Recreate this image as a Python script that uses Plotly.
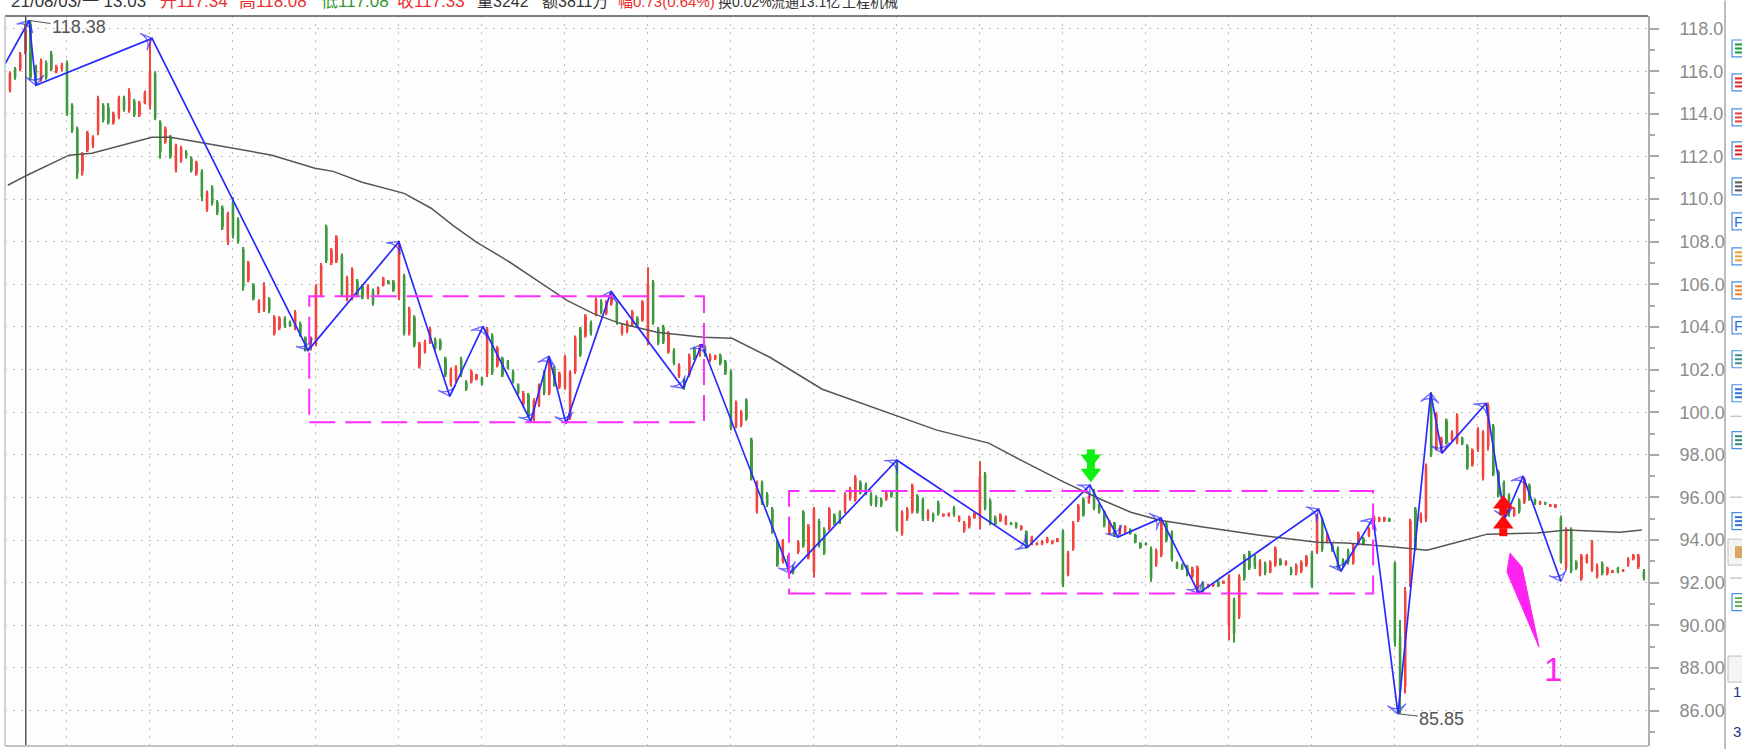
import plotly.graph_objects as go

# ---------- data ----------
highs = [116.0,116.2,116.9,118.2,118.38,116.3,116.6,116.5,116.95,116.3,
116.4,116.5,114.5,113.4,112.2,113.2,113.0,114.85,114.5,114.5,
114.1,114.85,114.85,115.2,114.7,114.6,115.1,117.5,116.0,113.7,
113.4,113.0,112.6,112.5,112.3,112.0,111.8,111.4,110.4,110.65,
109.95,109.7,109.4,110.1,109.15,107.75,107.1,106.05,105.3,106.1,
105.4,104.55,104.5,104.5,104.3,104.8,104.25,103.55,103.55,106.0,
107.0,108.8,107.7,108.3,107.45,106.4,106.8,106.25,106.0,106.0,
105.8,105.9,106.35,106.2,106.2,108.05,106.5,104.95,104.55,103.3,
103.4,104.0,103.5,103.45,102.6,102.1,102.2,102.6,101.5,102.0,
101.8,101.65,104.0,103.7,103.1,102.6,102.45,102.0,101.35,101.0,
100.9,100.65,101.35,101.97,102.6,102.15,101.9,102.7,101.97,103.6,
104.0,104.6,104.3,105.4,105.3,105.25,105.57,105.2,104.15,104.3,
104.8,104.5,105.25,106.8,106.2,104.0,104.1,103.8,103.0,102.3,
101.6,102.75,103.05,103.2,103.15,102.75,102.7,102.75,102.45,102.0,
100.55,100.1,100.65,98.8,96.8,96.8,96.25,95.55,94.0,94.05,
93.3,92.8,94.0,95.4,94.75,95.55,95.0,94.6,95.55,95.25,
95.4,96.25,96.5,97.05,96.8,96.7,96.25,96.1,96.0,96.3,
96.35,97.7,95.4,95.55,96.65,96.15,96.0,95.45,95.3,95.85,
95.25,95.3,95.6,95.15,94.9,95.15,95.3,97.7,97.2,95.95,
95.15,95.25,95.15,94.85,94.85,94.7,94.45,94.2,93.9,94.0,
94.15,94.0,94.1,94.5,93.5,94.9,95.7,96.0,96.1,96.4,
95.7,95.4,94.95,94.85,94.7,94.7,94.55,94.3,93.9,93.9,
93.7,93.6,94.95,94.85,94.45,93.0,92.9,92.85,92.75,92.8,
92.05,91.95,92.0,92.1,92.1,92.4,91.3,92.4,93.35,93.5,
93.3,93.1,93.0,93.05,93.7,93.15,93.05,92.75,92.9,93.05,
93.3,93.5,95.25,95.1,94.3,93.85,93.7,93.15,93.6,93.85,
94.4,94.15,94.6,95.15,95.1,95.1,95.05,93.0,90.25,91.8,
95.0,95.55,95.3,97.6,100.95,100.0,98.85,99.7,99.15,99.95,
98.85,98.5,98.3,99.3,99.15,100.45,99.45,97.3,96.8,96.2,
95.55,95.95,96.95,96.65,95.95,95.85,95.8,95.7,95.7,95.15,
94.6,94.6,93.05,93.35,93.35,94.0,92.9,93.0,92.75,92.6,
92.75,92.65,93.2,93.35,93.35,92.65]

lows = [115.0,115.6,116.0,116.8,115.6,115.4,115.5,115.6,116.0,115.9,
116.0,113.9,113.1,110.95,111.1,112.2,112.4,113.0,113.6,113.5,
113.5,113.75,114.1,114.05,113.85,113.85,114.45,114.2,113.7,111.9,
112.6,111.9,111.25,111.7,111.9,111.25,111.1,109.9,109.4,109.7,
109.25,108.55,107.85,108.15,107.9,105.7,106.1,105.25,104.65,104.7,
104.65,103.6,103.85,103.95,104.0,103.85,103.55,102.85,102.9,103.1,
105.4,107.0,106.9,107.0,105.4,105.2,105.25,105.4,105.3,105.3,
105.0,105.5,105.9,106.0,105.65,105.25,103.6,103.6,103.05,102.05,
102.75,103.2,102.9,102.9,101.65,101.2,101.35,101.65,101.0,101.35,
101.5,101.25,101.65,101.75,102.1,101.65,102.0,101.35,100.8,100.25,
99.75,99.55,100.25,100.8,100.8,101.2,101.1,101.05,99.63,101.8,
102.6,103.5,103.6,104.5,104.6,104.55,105.0,104.1,103.6,103.7,
104.0,104.0,104.25,103.15,104.1,103.15,103.2,102.75,102.2,101.6,
101.05,101.65,102.45,102.6,102.6,102.35,102.45,102.2,101.75,99.15,
99.25,99.3,99.6,96.8,95.25,95.65,95.55,94.3,92.75,92.9,
92.55,92.4,93.35,93.65,93.1,92.25,93.65,93.3,94.45,94.7,
94.75,95.25,95.85,95.8,96.15,96.1,95.6,95.55,95.55,95.85,
96.0,94.4,94.2,94.9,95.25,95.25,94.9,94.9,94.85,95.15,
95.1,95.1,95.1,94.85,94.35,94.55,95.0,94.5,95.4,94.7,
94.7,94.85,94.7,94.7,94.55,94.45,93.6,93.76,93.75,93.76,
93.85,93.8,93.9,91.8,92.3,93.5,94.85,95.1,95.7,95.4,
95.25,94.6,94.25,94.15,94.25,94.3,94.25,93.85,93.6,93.75,
92.05,92.75,93.2,93.9,93.0,92.65,92.6,92.3,92.2,91.55,
91.5,91.75,91.8,91.8,91.95,89.3,89.2,90.3,92.1,92.6,
92.65,92.3,92.35,92.45,92.75,92.8,92.8,92.35,92.35,92.45,
92.75,91.75,93.35,93.45,93.85,93.45,92.6,92.75,92.85,92.85,
93.75,93.75,94.15,94.8,94.85,94.85,94.85,89.0,85.85,86.8,
91.8,93.5,94.8,94.85,97.9,98.2,98.15,98.5,98.6,98.5,
98.45,97.3,97.45,98.15,96.8,98.2,97.0,96.0,95.9,95.1,
95.1,95.25,95.7,95.85,95.65,95.65,95.65,95.55,95.5,92.9,
92.6,92.45,92.6,92.1,92.9,92.5,92.2,92.35,92.35,92.45,
92.45,92.5,92.75,93.05,92.65,92.1]

opens = [115.1,116.1,116.1,116.9,118.2,116.2,115.6,116.4,116.8,116.0,
116.1,116.4,114.4,113.3,111.3,112.3,112.5,113.2,114.4,114.3,
113.6,113.85,114.75,114.15,114.6,113.95,114.5,114.4,115.9,113.6,
112.7,112.9,111.4,111.8,112.2,111.9,111.2,111.3,109.5,110.55,
109.85,109.6,108.0,109.9,109.05,107.65,106.2,105.95,104.75,104.8,
105.3,103.7,103.95,104.4,104.25,103.95,104.15,103.5,103.0,103.2,
105.5,108.7,107.0,107.1,107.35,105.3,105.35,106.15,105.9,105.4,
105.7,105.55,105.95,106.15,106.1,105.4,106.4,103.7,104.45,102.2,
102.85,103.3,103.4,103.35,102.5,101.3,101.45,102.5,101.4,101.45,
101.55,101.6,101.8,103.6,102.2,102.5,102.4,101.9,101.3,100.35,
100.8,99.65,100.35,101.87,100.9,102.05,101.2,101.15,99.75,101.9,
103.9,103.6,104.2,104.6,105.2,104.65,105.1,105.1,103.7,103.8,
104.1,104.4,104.35,103.3,106.1,103.9,104.0,102.85,102.9,101.7,
101.5,101.75,102.95,102.7,103.05,102.45,102.5,102.65,102.35,101.9,
99.35,99.4,100.55,98.7,95.35,96.7,96.15,95.45,93.9,93.0,
93.2,92.7,93.45,95.3,93.2,92.5,94.9,94.5,94.55,95.15,
95.3,95.35,95.95,95.9,96.7,96.6,96.15,96.0,95.9,95.95,
96.25,97.6,94.3,95.0,95.35,96.05,95.9,95.0,95.2,95.75,
95.12,95.12,95.5,94.9,94.45,94.65,95.05,95.0,97.1,95.85,
95.05,94.9,94.75,94.82,94.8,94.5,94.4,93.8,93.78,93.8,
93.9,93.85,93.92,94.4,92.4,93.6,94.95,95.9,95.75,96.3,
95.65,95.35,94.35,94.75,94.35,94.35,94.5,94.25,93.85,93.85,
93.6,92.85,93.3,94.75,94.35,92.95,92.85,92.75,92.3,91.7,
92.0,91.78,91.85,92.05,91.97,90.0,91.2,90.4,93.25,93.4,
93.2,92.4,92.9,92.5,92.85,93.05,92.85,92.65,92.45,92.55,
92.85,93.4,93.45,95.0,93.95,93.75,93.6,93.05,93.5,92.95,
93.85,94.05,94.2,94.85,94.9,94.9,95.0,92.9,89.5,87.1,
92.0,95.45,94.9,95.0,100.85,98.3,98.25,99.6,98.7,98.6,
98.8,98.4,97.55,98.25,96.95,98.4,99.35,97.2,96.7,96.1,
95.15,95.85,95.8,96.55,95.9,95.7,95.78,95.58,95.55,95.05,
92.7,94.5,92.95,92.2,92.95,92.6,92.3,92.9,92.45,92.48,
92.7,92.52,92.85,93.1,92.75,92.55]

closes = [115.9,115.7,116.8,118.0,115.7,115.5,116.5,115.7,116.1,116.2,
116.3,114.0,113.2,111.2,112.1,113.1,112.9,114.7,113.7,113.6,
114.0,114.75,114.2,115.05,113.95,114.5,115.0,116.0,113.8,112.2,
113.3,112.0,112.5,112.4,112.0,111.35,111.7,110.1,110.3,109.8,
109.35,108.7,109.3,108.3,108.0,105.9,107.0,105.35,105.2,105.9,
104.75,104.45,104.4,104.05,104.05,104.7,103.65,102.95,103.45,105.9,
106.9,107.1,107.6,108.2,105.5,106.3,106.7,105.5,105.4,105.9,
105.1,105.85,106.3,106.05,105.75,107.9,103.7,104.85,103.15,103.2,
103.3,103.9,103.0,103.0,101.75,102.0,102.1,101.75,101.1,101.9,
101.75,101.3,103.9,101.85,103.0,101.75,102.05,101.45,100.9,100.9,
99.85,100.55,101.25,100.9,102.5,101.3,101.8,102.6,101.87,103.5,
102.7,104.5,103.7,105.3,104.7,105.15,105.47,104.2,104.05,104.2,
104.7,104.1,105.15,106.0,104.2,103.25,103.3,103.7,102.3,102.2,
101.15,102.65,102.55,103.1,102.7,102.65,102.65,102.3,101.85,99.25,
100.45,100.0,99.7,96.9,96.7,95.75,95.65,94.4,92.85,93.95,
92.65,92.5,93.9,93.75,94.65,95.45,93.75,93.4,95.45,94.8,
94.85,96.15,96.4,96.95,96.25,96.2,95.7,95.65,95.65,96.2,
96.1,94.5,95.3,95.45,96.55,95.35,95.0,95.35,94.95,95.25,
95.23,95.28,95.2,95.1,94.8,95.05,95.25,97.0,95.5,94.8,
94.75,95.2,95.1,94.72,94.6,94.65,93.7,94.15,93.88,93.95,
94.1,93.95,94.05,91.9,93.4,94.8,95.6,95.2,96.05,95.5,
95.3,94.7,94.85,94.25,94.6,94.65,94.3,93.9,93.65,93.78,
92.2,93.5,94.85,94.0,93.1,92.7,92.65,92.4,92.65,92.7,
91.6,91.92,91.97,91.85,92.07,92.3,89.6,92.3,92.2,92.7,
92.75,93.0,92.45,92.95,93.6,92.85,93.0,92.45,92.8,92.95,
93.2,91.85,95.15,93.55,94.2,93.55,92.7,92.85,92.95,93.75,
94.3,93.85,94.5,95.1,95.05,95.05,94.9,89.2,86.9,91.6,
94.9,93.6,95.2,97.5,98.0,99.9,98.75,98.6,99.05,99.85,
98.5,97.4,98.2,99.2,99.05,100.3,97.1,96.1,96.0,95.2,
95.5,95.35,96.85,95.95,95.7,95.8,95.68,95.68,95.65,93.0,
94.5,92.55,92.7,93.25,93.3,93.9,92.8,92.45,92.7,92.58,
92.5,92.62,93.1,93.3,93.25,92.2]

zigzag_bar = [-0.9,3.7,5.0,27.4,57.5,75.0,84.8,91.2,100.4,103.9,107.2,115.9,129.8,133.4,150.4,171.0,196.2,208.2,213.6,221.9,229.2,252.3,256.6,262.8,267.6,273.9,276.1,284.6,288.2,291.7,299.0]
zigzag_price = [116.36,118.38,115.34,117.54,102.9,108.0,100.75,104.03,99.58,102.63,99.48,105.67,101.13,103.19,92.45,97.75,93.67,96.58,94.14,95.03,91.51,95.45,92.54,95.03,85.85,100.89,98.08,100.42,95.03,97.0,92.07]

ma_bar = [-0.4,3.3,11.4,15.8,27.4,30.9,37.6,50.5,58.8,62.3,67.9,76.0,81.2,85.4,90.0,95.8,101.6,107.4,112.4,117.6,124.7,133.6,139.2,146.5,156.6,169.5,178.7,188.7,194.9,203.2,210.7,216.1,221.7,230.0,241.0,252.0,257.7,267.4,273.2,279.0,284.8,294.4,300.2,310.4,314.6]
ma_price = [110.65,111.12,112.06,112.15,112.9,112.9,112.62,112.06,111.45,111.3,110.79,110.27,109.57,108.77,107.97,107.13,106.19,105.25,104.64,104.17,103.75,103.52,103.47,102.58,101.08,99.95,99.16,98.55,97.75,96.72,95.87,95.31,94.93,94.61,94.23,93.9,93.86,93.67,93.53,93.9,94.28,94.33,94.47,94.37,94.47]

tick_values = [118,116,114,112,110,108,106,104,102,100,98,96,94,92,90,88,86]
tick_labels = ["118.0","116.0","114.0","112.0","110.0","108.0","106.0","104.0","102.0","100.0","98.00","96.00","94.00","92.00","90.00","88.00","86.00"]
grid_bars = [11,27,43,59,75,91,107,123,139,155,171,187,203,219,235,251,267,283,299]

box_bars = [[57.7,133.8],[150.2,262.8]]
box_prices = [[99.53,105.44],[91.5,96.3]]

up_head_bar, up_head_price = [287.9,287.9], [95.69,94.75]
up_stem_bar, up_stem_price = [287.9,287.9], [95.36,94.37]
down_head_bar, down_head_price = [208.4,208.4], [97.8,97.14]
down_stem_bar, down_stem_price = [208.4,208.4], [98.07,97.47]

header_parts = [("21/08/03/一 13:03","#333333",17),("开117.34","#e83030",17),("高118.08","#e83030",17),("低117.08","#2e9a2e",17),
                ("收117.33","#e83030",17),("量3242","#333333",16),("额3811万","#333333",16),("幅0.73(0.64%)","#e83030",15),
                ("换0.02%","#333333",14),("流通13.1亿","#333333",14),("工程机械","#333333",14)]
header_x = [9,158,237,319,395,475,540,616,716,769,840]

# ---------- pixel geometry of the frame ----------
L, R, T, B = 5, 1648, 15.5, 746
PX = lambda x: (x - L) / (R - L)
PY = lambda y: (B - y) / (B - T)
FONT = "Liberation Sans, Noto Sans CJK SC, sans-serif"
bars = list(range(len(highs)))
RED, GREEN = "#f2453f", "#3f9a3f"
bar_colors = [RED if c >= o else GREEN for o, c in zip(opens, closes)]

fig = go.Figure()
# wicks
fig.add_trace(go.Bar(x=bars, base=lows, y=[h - l for h, l in zip(highs, lows)], width=0.3,
                     marker=dict(color=bar_colors, line=dict(width=0)), hoverinfo="skip"))
# bodies
fig.add_trace(go.Bar(x=bars, base=[min(o, c) for o, c in zip(opens, closes)],
                     y=[abs(c - o) for o, c in zip(opens, closes)], width=0.5,
                     marker=dict(color=bar_colors, line=dict(width=0)), hoverinfo="skip"))
fig.add_trace(go.Scatter(x=ma_bar, y=ma_price, mode="lines", line=dict(color="#555555", width=1.5), hoverinfo="skip"))
fig.add_trace(go.Scatter(
    x=zigzag_bar, y=zigzag_price, mode="lines+markers", line=dict(color="#2a2aff", width=1.7),
    marker=dict(symbol="arrow-wide-open", angleref="previous", color="#2a2aff",
                size=[0] + [13] * (len(zigzag_bar) - 1), line=dict(color="#2a2aff", width=1.3)),
    hoverinfo="skip"))
for xs, ys, sym, col, size in [
    (up_stem_bar, up_stem_price, "square", "#ff0a0a", 8),
    (up_head_bar, up_head_price, "triangle-up", "#ff0a0a", 18),
    (down_stem_bar, down_stem_price, "square", "#11ee11", 8),
    (down_head_bar, down_head_price, "triangle-down", "#11ee11", 18)]:
    fig.add_trace(go.Scatter(x=xs, y=ys, mode="markers", marker=dict(symbol=sym, color=col, size=size, line=dict(width=0)), hoverinfo="skip"))

shapes = []
for bx, py in zip(box_bars, box_prices):
    shapes.append(dict(type="rect", xref="x", yref="y", x0=bx[0], x1=bx[1], y0=py[0], y1=py[1],
                       line=dict(color="#ff2eff", width=2, dash="26px,10px")))
# crosshair
shapes.append(dict(type="line", xref="x", yref="paper", x0=3.05, x1=3.05, y0=0, y1=1, line=dict(color="#555555", width=1.5)))
# frame lines
shapes += [
    dict(type="line", xref="paper", yref="paper", x0=0, x1=1, y0=1, y1=1, line=dict(color="#555555", width=1.5)),
    dict(type="line", xref="paper", yref="paper", x0=0, x1=0, y0=0, y1=1, line=dict(color="#c4c4c4", width=1.5)),
    dict(type="line", xref="paper", yref="paper", x0=0, x1=1, y0=0, y1=0, line=dict(color="#c4c4c4", width=2)),
    dict(type="line", xref="paper", yref="paper", x0=PX(1725), x1=PX(1725), y0=PY(749), y1=PY(0), line=dict(color="#a8a8a8", width=1.5)),
]
# pink hand-drawn arrow
pts = [(1510,553),(1522,567),(1539,647),(1507,572)]
path = "M " + " L ".join(f"{PX(x):.5f} {PY(y):.5f}" for x, y in pts) + " Z"
shapes.append(dict(type="path", xref="paper", yref="paper", path=path, fillcolor="#ff22f0", line=dict(color="#ff22f0", width=1)))

# toolbar icons on the far right
icons = [(48,"#1a9a3a"),(82,"#e82020"),(117,"#e04040"),(150,"#e02020"),(186,"#555555"),(221,None),(256,"#e8a030"),
         (290,"#f08030"),(325,None),(359,"#3a8f8f"),(393,"#2a70e0"),(440,"#2a8a6a"),(521,"#2a70e0"),(602,"#60b050")]
for y, c in icons:
    shapes.append(dict(type="rect", xref="paper", yref="paper", x0=PX(1732), x1=PX(1750), y0=PY(y+8.5), y1=PY(y-8.5),
                       line=dict(color="#4a90e0", width=1.2), fillcolor="#ffffff"))
    if c:
        for dy in (-4, 0, 4):
            shapes.append(dict(type="line", xref="paper", yref="paper", x0=PX(1735), x1=PX(1742), y0=PY(y+dy), y1=PY(y+dy),
                               line=dict(color=c, width=2)))
for sy in (416, 497, 578):
    shapes.append(dict(type="line", xref="paper", yref="paper", x0=PX(1730), x1=PX(1742), y0=PY(sy), y1=PY(sy), line=dict(color="#b0b0b0", width=1)))
for y in (552, 669):
    shapes.append(dict(type="rect", xref="paper", yref="paper", x0=PX(1728), x1=PX(1750), y0=PY(y+13), y1=PY(y-13),
                       line=dict(color="#c0c0c0", width=1), fillcolor="#f4f4f4"))
shapes.append(dict(type="rect", xref="paper", yref="paper", x0=PX(1735), x1=PX(1742), y0=PY(558), y1=PY(546), line=dict(width=0), fillcolor="#d8a860"))

ann = []
for (txt, col, size), x in zip(header_parts, header_x):
    ann.append(dict(xref="paper", yref="paper", x=PX(x), y=PY(1), xanchor="left", yanchor="middle", text=txt,
                    showarrow=False, font=dict(family=FONT, size=size, color=col)))
ann.append(dict(xref="x", yref="y", x=3.7, y=118.38, text="118.38", ax=50, ay=7, showarrow=True, arrowhead=0,
                arrowcolor="#555555", arrowwidth=1, font=dict(family=FONT, size=18, color="#555555")))
ann.append(dict(xref="x", yref="y", x=267.6, y=85.85, text="85.85", ax=44, ay=5, showarrow=True, arrowhead=0,
                arrowcolor="#555555", arrowwidth=1, font=dict(family=FONT, size=18, color="#555555")))
ann.append(dict(xref="paper", yref="paper", x=PX(1553), y=PY(669), xanchor="center", yanchor="middle", text="1", showarrow=False,
                font=dict(family=FONT, size=33, color="#ff22f0")))
for txt, y in (("1", 691), ("3", 731)):
    ann.append(dict(xref="paper", yref="paper", x=PX(1737), y=PY(y), xanchor="center", yanchor="middle", text=txt, showarrow=False,
                    font=dict(family=FONT, size=15, color="#1a3a80")))
for y in (221, 325):
    ann.append(dict(xref="paper", yref="paper", x=PX(1739), y=PY(y), xanchor="center", yanchor="middle", text="F", showarrow=False,
                    font=dict(family=FONT, size=15, color="#2a70e0")))

fig.update_layout(
    width=1742, height=749, showlegend=False, paper_bgcolor="#ffffff", plot_bgcolor="#fefefe",
    margin=dict(l=L, r=1742 - R, t=T, b=749 - B, pad=0), barmode="overlay",
    shapes=shapes, annotations=ann,
    xaxis=dict(range=[-0.95, 315.8], tickmode="array", tickvals=grid_bars, showticklabels=False, ticks="",
               showgrid=True, gridcolor="#bdbdbd", griddash="2px,6px", gridwidth=1, zeroline=False),
    yaxis=dict(range=[84.34, 118.59], side="right", tickmode="array", tickvals=tick_values, ticktext=tick_labels,
               ticks="outside", ticklen=9, tickcolor="#a8a8a8", tickwidth=1.5, ticklabelstandoff=17,
               tickfont=dict(family=FONT, size=18, color="#8c8c8c"),
               showgrid=True, gridcolor="#bdbdbd", griddash="2px,6px", gridwidth=1, zeroline=False,
               showline=True, linecolor="#b0b0b0", linewidth=2,
               minor=dict(tickmode="array", tickvals=[117,115,113,111,109,107,105,103,101,99,97,95,93,91,89,87,85],
                          ticks="outside", ticklen=5, tickcolor="#a8a8a8", showgrid=False)),
)
fig.write_html("out.html", config=dict(displayModeBar=False), post_script="document.body.style.margin='0';")
